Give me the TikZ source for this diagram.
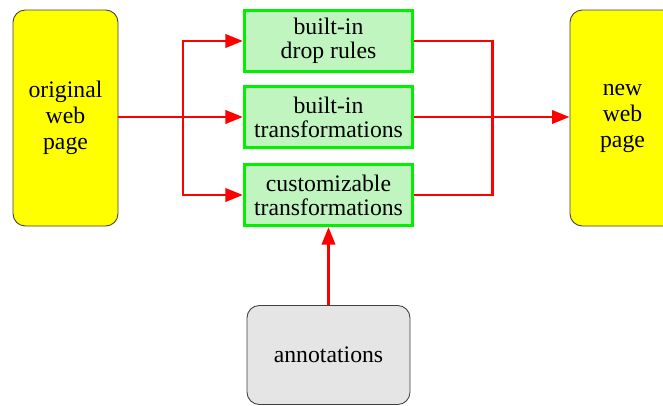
\documentclass[tikz,border=0pt]{standalone}
\usepackage{fontspec}
\setmainfont{Liberation Serif}
\usepackage{tikz}
\usetikzlibrary{arrows.meta}

\definecolor{pageyellow}{RGB}{255,255,0}
\definecolor{rulegreen}{RGB}{0,240,0}
\definecolor{rulefill}{RGB}{192,245,192}
\definecolor{notegray}{RGB}{229,229,229}
\definecolor{flowred}{RGB}{255,0,0}

\begin{document}
\begin{tikzpicture}[
    pagebox/.style={draw=black!75, line width=0.5pt, fill=pageyellow, rounded corners=7pt,
        minimum width=2.1cm, minimum height=4.32cm, align=center,
        font=\fontsize{13.5}{14.8}\selectfont},
    rulebox/.style={draw=rulegreen, line width=1.7pt, fill=rulefill,
        minimum width=3.36cm, minimum height=1.22cm, align=center,
        font=\fontsize{13.5}{13.6}\selectfont},
    notebox/.style={draw=black!75, line width=0.5pt, fill=notegray, rounded corners=7pt,
        minimum width=3.26cm, minimum height=1.98cm, align=center,
        font=\fontsize{13.5}{14.8}\selectfont},
    flow/.style={draw=flowred, line width=1.7pt},
    flowtip/.style={flow, -{Triangle[length=10pt, width=7.5pt]}}
]
\useasboundingbox (0, 0) rectangle (13.26, 8.1);

\node[pagebox] (orig) at (1.31, 5.74) {original\\web\\page};
\node[pagebox] (new) at (12.45, 5.74) {new\\web\\page};

\node[rulebox] (drop) at (6.57, 7.28) {built-in\\drop rules};
\node[rulebox] (trans) at (6.57, 5.76) {built-in\\transformations};
\node[rulebox] (custom) at (6.57, 4.20) {customizable\\transformations};

\node[notebox] (notes) at (6.57, 1.0) {annotations};

% split and join points
\coordinate (split) at (3.66, 5.76);
\coordinate (join) at (9.84, 5.76);

\draw[flow] (orig.east |- split) -- (split);
\draw[flowtip] (split) -- (trans.west);
\draw[flowtip] (split) |- (drop.west);
\draw[flowtip] (split) |- (custom.west);

\draw[flow] (drop.east) -| (join);
\draw[flow] (custom.east) -| (join);
\draw[flowtip] (trans.east) -- (new.west |- trans.east);

\draw[flowtip] (notes.north) -- (custom.south);
\end{tikzpicture}
\end{document}
